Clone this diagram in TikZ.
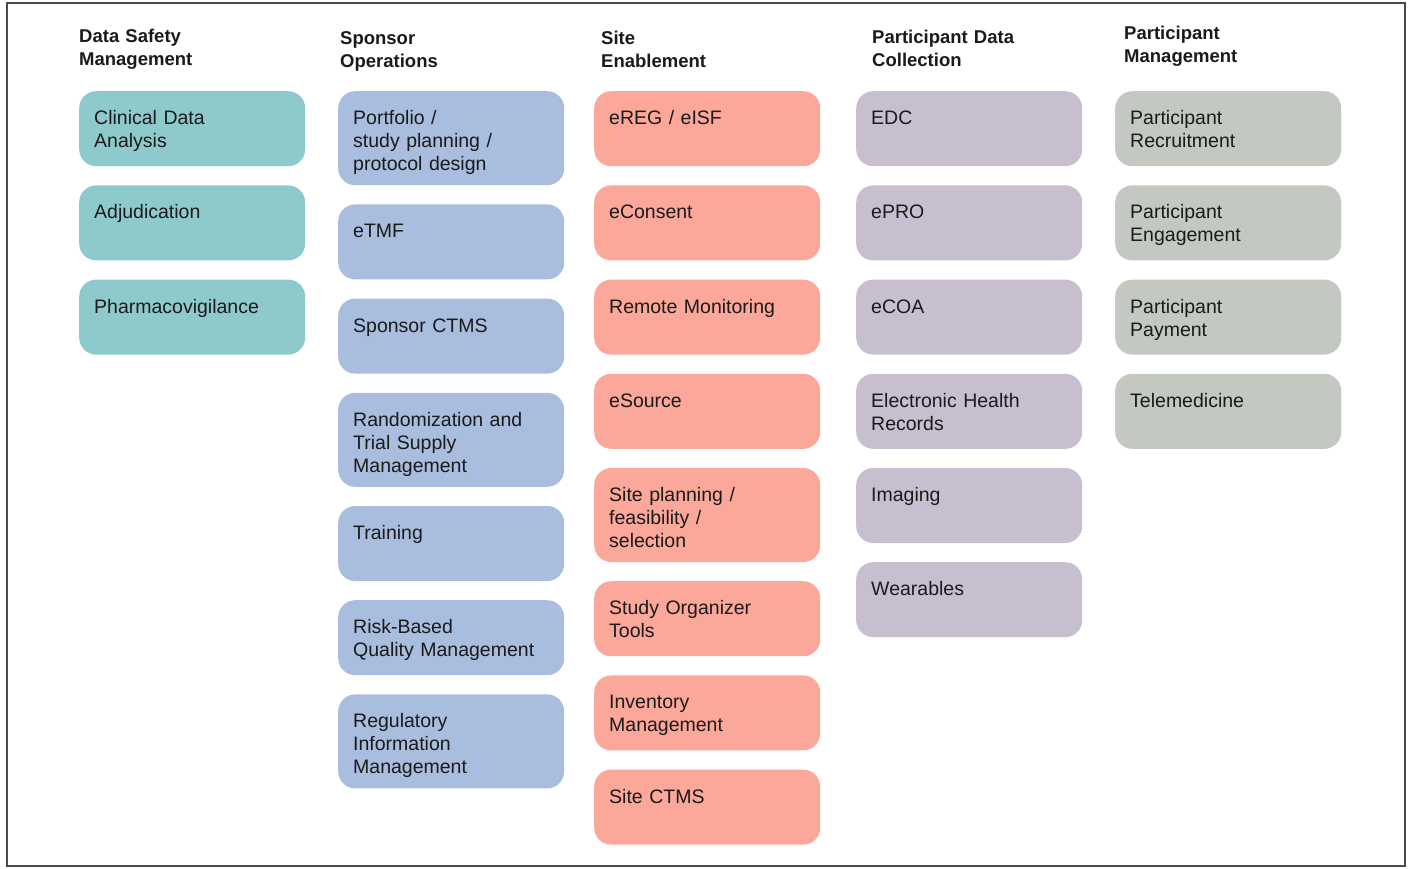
\documentclass[tikz,border=0pt]{standalone}
\usepackage{fontspec}
\setmainfont{Liberation Sans}
\usetikzlibrary{positioning}

\definecolor{safetyfill}{HTML}{8ECACB}
\definecolor{sponsorfill}{HTML}{A9BDDE}
\definecolor{sitefill}{HTML}{FBA799}
\definecolor{datafill}{HTML}{C7BFD0}
\definecolor{partfill}{HTML}{C3C9C1}
\definecolor{framecol}{HTML}{4A4A4A}
\definecolor{inkcol}{HTML}{1A1A1A}

\begin{document}
\begin{tikzpicture}[x=1pt,y=-1pt,node distance=18.8pt,
  card/.style={rounded corners=17pt,text width=196pt,align=left,
    inner xsep=15pt,inner ysep=0pt,text=inkcol,
    font=\fontsize{19.5}{23}\selectfont,text height=33.5pt,text depth=41.5pt},
  tall/.style={text depth=60.5pt},
  safety box/.style={card,fill=safetyfill},
  sponsor box/.style={card,fill=sponsorfill},
  site box/.style={card,fill=sitefill},
  data box/.style={card,fill=datafill},
  part box/.style={card,fill=partfill},
  head/.style={text width=230pt,align=left,inner sep=0pt,anchor=base west,
    text=inkcol,font=\bfseries\fontsize{18.5}{23}\selectfont}]

  \useasboundingbox (0,0) rectangle (1412,868);
  \draw[framecol,line width=1.2pt] (7,3) rectangle (1405,866);

  % column headers
  \node[head] (h1) at (79,42) {Data Safety\\Management};
  \node[head] (h2) at (340,44) {Sponsor\\Operations};
  \node[head] (h3) at (601,44) {Site\\Enablement};
  \node[head] (h4) at (872,43) {Participant Data\\Collection};
  \node[head] (h5) at (1124,39) {Participant\\Management};

  % data safety management
  \node[safety box,anchor=north west] (cda) at (79,91) {Clinical Data\\Analysis};
  \node[safety box] (adj) [below=of cda] {Adjudication};
  \node[safety box] (pv) [below=of adj] {Pharmacovigilance};

  % sponsor operations
  \node[sponsor box,tall,anchor=north west] (portfolio) at (338,91) {Portfolio /\\study planning /\\protocol design};
  \node[sponsor box] (etmf) [below=of portfolio] {eTMF};
  \node[sponsor box] (sctms) [below=of etmf] {Sponsor CTMS};
  \node[sponsor box,tall] (rtsm) [below=of sctms] {Randomization and\\Trial Supply\\Management};
  \node[sponsor box] (training) [below=of rtsm] {Training};
  \node[sponsor box] (rbqm) [below=of training] {Risk-Based\\Quality Management};
  \node[sponsor box,tall] (rim) [below=of rbqm] {Regulatory\\Information\\Management};

  % site enablement
  \node[site box,anchor=north west] (ereg) at (594,91) {eREG / eISF};
  \node[site box] (econsent) [below=of ereg] {eConsent};
  \node[site box] (remote) [below=of econsent] {Remote Monitoring};
  \node[site box] (esource) [below=of remote] {eSource};
  \node[site box,tall] (siteplan) [below=of esource] {Site planning /\\feasibility /\\selection};
  \node[site box] (organizer) [below=of siteplan] {Study Organizer\\Tools};
  \node[site box] (inventory) [below=of organizer] {Inventory\\Management};
  \node[site box] (sitectms) [below=of inventory] {Site CTMS};

  % participant data collection
  \node[data box,anchor=north west] (edc) at (856,91) {EDC};
  \node[data box] (epro) [below=of edc] {ePRO};
  \node[data box] (ecoa) [below=of epro] {eCOA};
  \node[data box] (ehr) [below=of ecoa] {Electronic Health\\Records};
  \node[data box] (imaging) [below=of ehr] {Imaging};
  \node[data box] (wearables) [below=of imaging] {Wearables};

  % participant management
  \node[part box,anchor=north west] (recruit) at (1115,91) {Participant\\Recruitment};
  \node[part box] (engage) [below=of recruit] {Participant\\Engagement};
  \node[part box] (payment) [below=of engage] {Participant\\Payment};
  \node[part box] (telemed) [below=of payment] {Telemedicine};
\end{tikzpicture}
\end{document}
